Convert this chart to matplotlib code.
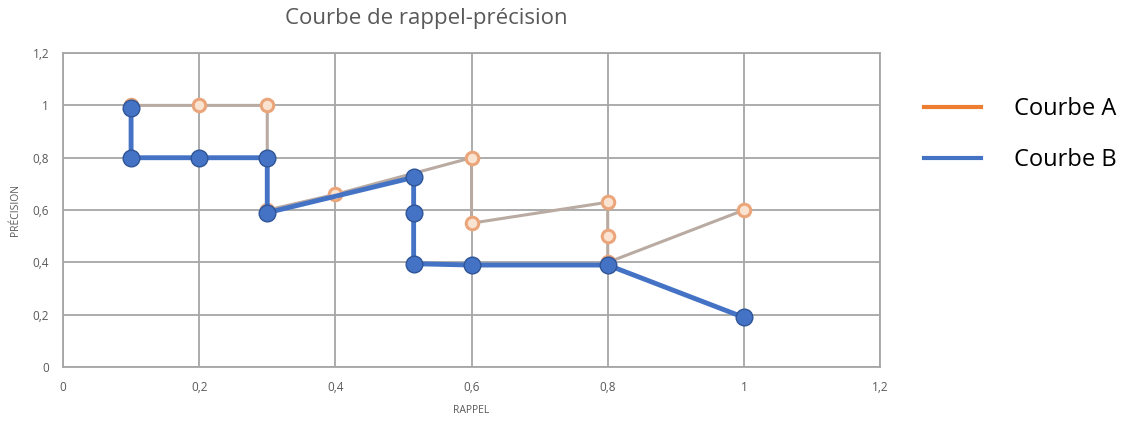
import matplotlib.pyplot as plt
from matplotlib.ticker import FuncFormatter, MultipleLocator
from matplotlib.lines import Line2D

plt.rcParams['font.family'] = ['Open Sans', 'DejaVu Sans']

# Courbe A (orange)
rappel_a = [0.1, 0.2, 0.3, 0.3, 0.4, 0.6, 0.6, 0.8, 0.8, 0.8, 1.0]
precision_a = [1.0, 1.0, 1.0, 0.6, 0.66, 0.8, 0.55, 0.63, 0.5, 0.4, 0.6]

# Courbe B (bleue)
rappel_b = [0.1, 0.1, 0.2, 0.3, 0.3, 0.515, 0.515, 0.515, 0.6, 0.8, 1.0]
precision_b = [0.99, 0.8, 0.8, 0.8, 0.59, 0.725, 0.59, 0.395, 0.39, 0.39, 0.19]

labels = ['Courbe A', 'Courbe B']

fig = plt.figure(figsize=(11.29, 4.21), dpi=100)
ax = fig.add_axes([0.0558, 0.128, 0.7237, 0.746])

ax.plot(rappel_a, precision_a, color='#b9aaa2', linewidth=2.2,
        marker='o', markersize=9, markerfacecolor='#fbe3d2',
        markeredgecolor='#eba57a', markeredgewidth=2.2, zorder=3)
ax.plot(rappel_b, precision_b, color='#4472c4', linewidth=3.5,
        marker='o', markersize=12, markerfacecolor='#4472c4',
        markeredgecolor='#2f5597', markeredgewidth=1, zorder=4)

ax.set_xlim(0, 1.2)
ax.set_ylim(0, 1.2)
ax.xaxis.set_major_locator(MultipleLocator(0.2))
ax.yaxis.set_major_locator(MultipleLocator(0.2))

fmt = FuncFormatter(lambda v, p: ('%g' % round(v, 2)).replace('.', ','))
ax.xaxis.set_major_formatter(fmt)
ax.yaxis.set_major_formatter(fmt)

ax.grid(True, color='#a6a6a6', linewidth=1.3)
ax.set_axisbelow(True)
for s in ax.spines.values():
    s.set_color('#a6a6a6')
    s.set_linewidth(1.3)
ax.tick_params(length=0, labelsize=8.5, colors='#595959', pad=10)

ax.set_xlabel('RAPPEL', fontsize=7.5, color='#595959', labelpad=8)
ax.set_ylabel('PRÉCISION', fontsize=7.5, color='#595959', labelpad=8)
fig.text(0.378, 0.955, 'Courbe de rappel-précision', fontsize=16,
         color='#595959', ha='center', va='center')

handles = [Line2D([], [], color='#ed7d31', linewidth=3),
           Line2D([], [], color='#4472c4', linewidth=3)]
fig.legend(handles, labels, loc='upper left', bbox_to_anchor=(0.8, 0.82),
           frameon=False, fontsize=17, handlelength=2.4, handletextpad=1.4,
           labelspacing=1.15)

fig.savefig('out.png', dpi=100)
